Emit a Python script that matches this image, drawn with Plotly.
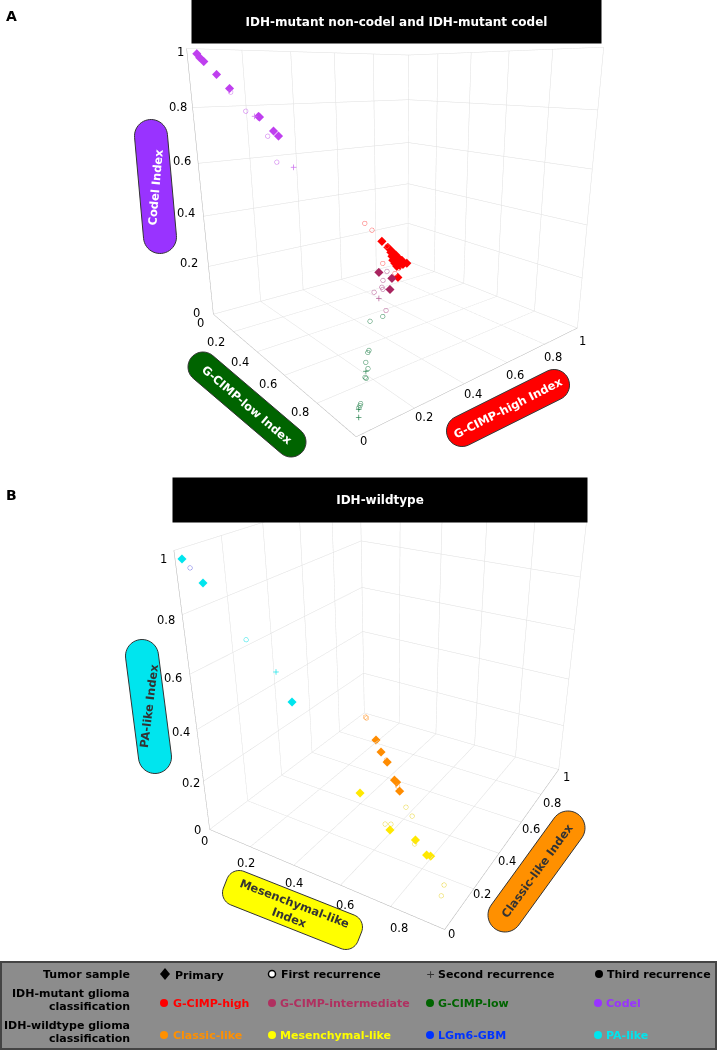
import math
import plotly.graph_objects as go

W, H = 717, 1050

# ---- data: each tuple is (low/mesenchymal index, high/classic index, codel/PA index) ----
A_codel_primary = [(0,.033,.984),(0,.042,.971),(0,.055,.958),(0,.097,.914),(0,.141,.864),(0,.247,.758),(0,.251,.755),(0,.306,.698),(0,.326,.677)]
A_codel_first = [(.008,.141,.851),(.037,.181,.782),(.063,.250,.687),(.169,.229,.602)]
A_codel_second = [(.104,.331,.564),(.014,.225,.760)]
A_high_primary = [(.041,.805,.154),(.044,.838,.118),(.044,.850,.106),(.045,.861,.094),(.046,.873,.081),
    (.047,.885,.069),(.048,.896,.056),(.048,.908,.043),(.041,.927,.032),(.042,.939,.019),
    (.026,.971,.003),(.061,.843,.096),(.069,.848,.082),(.070,.860,.070),(.071,.871,.057),
    (.072,.883,.045),(.073,.895,.032),(.066,.913,.021),(.085,.831,.085),(.093,.836,.071),
    (.094,.847,.059),(.095,.858,.046),(.096,.870,.034),(.108,.818,.074),(.117,.823,.060),
    (.125,.828,.046),(.199,.776,.025)]
A_high_first = [(.027,.718,.254),(.030,.756,.215),(.043,.833,.124),(.196,.693,.110),(.126,.840,.034),(.190,.766,.044)]
A_int_primary = [(.279,.610,.111),(.243,.707,.050),(.325,.633,.042)]
A_int_first = [(.226,.693,.081),(.307,.610,.083),(.354,.569,.077),(.361,.569,.070),(.421,.481,.099),(.464,.506,.030)]
A_int_second = [(.431,.497,.072)]
A_low_first = [(.507,.458,.034),(.580,.347,.074),(.704,.253,.043),(.715,.241,.044),(.757,.203,.040),
    (.774,.199,.027),(.812,.161,.028),(.813,.164,.024),(.901,.083,.015),(.909,.075,.016),(.917,.066,.017)]
A_low_second = [(.789,.181,.031),(.922,.062,.016),(.945,.046,.009)]

B_pa_primary = [(.011,.017,.972),(.054,.051,.895),(.360,.089,.551)]
B_lgm_first = [(.026,.031,.943)]
B_pa_first = [(.197,.073,.731)]
B_pa_second = [(.251,.142,.607)]
B_cl_first = [(.037,.965,0),(.027,.970,0),(.319,.707,0),(.465,.569,0)]
B_cl_primary = [(.188,.821,0),(.264,.749,0),(.331,.696,0),(.431,.598,0),(.446,.590,0),(.490,.544,0)]
B_me_primary = [(.603,.118,.279),(.698,.153,.149),(.701,.318,0),(.778,.268,0),(.793,.270,0)]
B_me_first = [(.568,.467,0),(.618,.431,0),(.683,.146,.171),(.666,.208,.125),(.710,.298,0),(.904,.168,0),(.920,.120,0)]

TICK_VALS = [0, .2, .4, .6, .8, 1]
# tick label text with its place on the page
A_Z_TICKS = [('1', 180, 52), ('0.8', 178, 107), ('0.6', 182, 161), ('0.4', 186, 213), ('0.2', 189, 263), ('0', 196, 313)]
A_LOW_TICKS = [('0', 200, 323), ('0.2', 216, 342), ('0.4', 240, 362), ('0.6', 268, 384), ('0.8', 300, 412)]
A_HIGH_TICKS = [('0', 363, 441), ('0.2', 424, 417), ('0.4', 473, 394), ('0.6', 515, 375), ('0.8', 553, 357), ('1', 582, 341)]
B_Z_TICKS = [('1', 163, 559), ('0.8', 166, 620), ('0.6', 173, 678), ('0.4', 181, 732), ('0.2', 191, 783), ('0', 197, 830)]
B_MES_TICKS = [('0', 204, 841), ('0.2', 246, 863), ('0.4', 294, 883), ('0.6', 345, 905), ('0.8', 399, 928)]
B_CL_TICKS = [('0', 451, 934), ('0.2', 482, 894), ('0.4', 507, 861), ('0.6', 531, 829), ('0.8', 552, 803), ('1', 566, 777)]

C = dict(high='#FF0000', inter='#A8245F', low='#0B6B2B', codel='#BF3FEF', classic='#FF8C00', mes='#FFE800', lgm='#0033FF', pa='#00E5EE')
C_OPEN = dict(high='#FF6060', inter='#B86098', low='#2F8855', codel='#CC70EE', classic='#FFA040', mes='#EAD840', lgm='#7878E8', pa='#20E4E8')


def add(group, kind, col, scene):
    xs, ys, zs = zip(*group)
    if kind == 'P':
        fig.add_trace(go.Scatter3d(x=xs, y=ys, z=zs, mode='markers', scene=scene,
                                   marker=dict(size=3.0, symbol='diamond', color=C[col], line=dict(width=0))))
    elif kind == 'O':
        fig.add_trace(go.Scatter3d(x=xs, y=ys, z=zs, mode='markers', scene=scene,
                                   marker=dict(size=2.8, symbol='circle-open', color=C_OPEN[col])))
    else:
        fig.add_trace(go.Scatter3d(x=xs, y=ys, z=zs, mode='text', scene=scene, text=['+'] * len(xs), textposition='middle center',
                                   textfont=dict(size=9, color=C_OPEN[col], family='DejaVu Sans')))


fig = go.Figure()
add(A_codel_first, 'O', 'codel', 'scene'); add(A_codel_second, 'S', 'codel', 'scene'); add(A_codel_primary, 'P', 'codel', 'scene')
add(A_high_first, 'O', 'high', 'scene'); add(A_high_primary, 'P', 'high', 'scene')
add(A_int_first, 'O', 'inter', 'scene'); add(A_int_second, 'S', 'inter', 'scene'); add(A_int_primary, 'P', 'inter', 'scene')
add(A_low_first, 'O', 'low', 'scene'); add(A_low_second, 'S', 'low', 'scene')
add(B_pa_first, 'O', 'pa', 'scene2'); add(B_pa_second, 'S', 'pa', 'scene2'); add(B_pa_primary, 'P', 'pa', 'scene2')
add(B_lgm_first, 'O', 'lgm', 'scene2')
add(B_cl_first, 'O', 'classic', 'scene2'); add(B_cl_primary, 'P', 'classic', 'scene2')
add(B_me_first, 'O', 'mes', 'scene2'); add(B_me_primary, 'P', 'mes', 'scene2')


def axis():
    return dict(range=[0, 1], tickvals=TICK_VALS, showticklabels=False, showbackground=False, gridcolor='#dedede', gridwidth=1,
                showline=True, linecolor='#b0b0b0', linewidth=1, zeroline=False, title=dict(text=''), ticks='',
                showspikes=False)


def scene(dom_x, dom_y, e, c, u, a):
    return dict(domain=dict(x=dom_x, y=dom_y), xaxis=axis(), yaxis=axis(), zaxis=axis(),
                aspectmode='manual', aspectratio=dict(x=1, y=a[0], z=a[1]),
                camera=dict(eye=dict(x=e[0], y=e[1], z=e[2]), center=dict(x=c[0], y=c[1], z=c[2]),
                            up=dict(x=u[0], y=u[1], z=u[2]), projection=dict(type='perspective')))


px = lambda x: x / W
py = lambda y: 1 - y / H
shapes, anns = [], []


def capsule(x0, y0, x1, y1, w, col, r=None):
    """Rounded bar whose end-cap centres are (x0,y0),(x1,y1)."""
    rad = w / 2
    L = math.hypot(x1 - x0, y1 - y0)
    ux, uy = (x1 - x0) / L, (y1 - y0) / L
    nx, ny = -uy, ux
    r = rad if r is None else r
    ext = rad - r
    hw = rad - r
    base = math.atan2(uy, ux)
    centres = [(x1 + ux * ext - nx * hw, y1 + uy * ext - ny * hw, base - math.pi / 2),
               (x1 + ux * ext + nx * hw, y1 + uy * ext + ny * hw, base),
               (x0 - ux * ext + nx * hw, y0 - uy * ext + ny * hw, base + math.pi / 2),
               (x0 - ux * ext - nx * hw, y0 - uy * ext - ny * hw, base + math.pi)]
    pts = []
    for cx, cy, a0 in centres:
        for k in range(13):
            a = a0 + k / 12 * math.pi / 2
            pts.append((cx + r * math.cos(a), cy + r * math.sin(a)))
    path = 'M ' + ' L '.join(f'{px(a):.5f} {py(b):.5f}' for a, b in pts) + ' Z'
    shapes.append(dict(type='path', xref='paper', yref='paper', path=path, fillcolor=col, line=dict(color='#333333', width=1)))


def label(x, y, text, color='black', size=11, anchor='center', angle=0, weight='bold'):
    anns.append(dict(xref='paper', yref='paper', x=px(x), y=py(y), text=text, showarrow=False, xanchor=anchor, yanchor='middle',
                     textangle=angle, font=dict(family='DejaVu Sans', size=size, color=color, weight=weight)))


def dot(x, y, col, r=4, line=None):
    shapes.append(dict(type='circle', xref='paper', yref='paper', x0=px(x - r), x1=px(x + r), y0=py(y + r), y1=py(y - r),
                       fillcolor=col, line=dict(color=line or col, width=1.5 if line else 0)))


for ticks in (A_Z_TICKS, A_LOW_TICKS, A_HIGH_TICKS, B_Z_TICKS, B_MES_TICKS, B_CL_TICKS):
    for t, x, y in ticks:
        label(x, y, t, 'black', 11.5, weight='normal')

# axis-name bars
capsule(151, 136, 160, 237, 33, '#9933FF'); label(155.5, 187, 'Codel Index', 'white', 11.5, angle=-85)
capsule(203, 367, 291, 442, 30, '#006400'); label(247, 405, 'G-CIMP-low Index', 'white', 11.5, angle=40.4)
capsule(462, 431, 554, 385, 31, '#FF0000'); label(508, 408, 'G-CIMP-high Index', 'white', 11.5, angle=-27)
capsule(142, 656, 155, 757, 33, '#00E5EE'); label(149, 706, 'PA-like Index', '#333333', 11.5, angle=-83)
capsule(242, 890, 343, 930, 36, '#FFFF00', 13); label(292, 910, 'Mesenchymal-like<br>Index', '#333333', 11.5, angle=21)
capsule(505, 915, 568, 828, 34, '#FF9000'); label(537, 871, 'Classic-like Index', '#333333', 11.5, angle=-54)

# panel titles on black bands
anns.append(dict(xref='paper', yref='paper', x=px(396.5), y=py(21.5), text='IDH-mutant non-codel and IDH-mutant codel', showarrow=False,
                 xanchor='center', yanchor='middle', width=409, height=43, bgcolor='black', borderpad=0,
                 font=dict(family='DejaVu Sans', size=12, color='white', weight='bold')))
anns.append(dict(xref='paper', yref='paper', x=px(380), y=py(500), text='IDH-wildtype', showarrow=False,
                 xanchor='center', yanchor='middle', width=414, height=44, bgcolor='black', borderpad=0,
                 font=dict(family='DejaVu Sans', size=12, color='white', weight='bold')))
label(12, 16, 'A', 'black', 14)
label(12, 495, 'B', 'black', 14)

# legend panel
shapes.append(dict(type='rect', xref='paper', yref='paper', x0=px(1), x1=px(716), y0=py(1049), y1=py(962),
                   fillcolor='#8C8C8C', line=dict(color='#444444', width=2)))
label(132, 974, 'Tumor sample', anchor='right')
label(132, 993, 'IDH-mutant glioma', anchor='right')
label(132, 1006, 'classification', anchor='right')
label(132, 1025, 'IDH-wildtype glioma', anchor='right')
label(132, 1038, 'classification', anchor='right')
shapes.append(dict(type='path', xref='paper', yref='paper', fillcolor='black', line=dict(width=0),
                   path=f'M {px(160)} {py(974)} L {px(165)} {py(968)} L {px(170)} {py(974)} L {px(165)} {py(980)} Z'))
label(173, 975, 'Primary', anchor='left')
dot(272, 974, 'white', 3.5, 'black'); label(279, 974, 'First recurrence', anchor='left')
label(430, 974, '+', '#333333', 11, weight='normal')
label(436, 974, 'Second recurrence', anchor='left')
dot(599, 974, 'black', 4); label(605, 974, 'Third recurrence', anchor='left')
LEG_X = [(164, 171), (272, 278), (430, 436), (598, 604)]
LEG_2 = [('G-CIMP-high', '#FF0000'), ('G-CIMP-intermediate', '#B03060'), ('G-CIMP-low', '#006400'), ('Codel', '#9933FF')]
LEG_3 = [('Classic-like', '#FF9000'), ('Mesenchymal-like', '#FFFF00'), ('LGm6-GBM', '#0033FF'), ('PA-like', '#00E5EE')]
for row_y, row in ((1003, LEG_2), (1035, LEG_3)):
    for (xd, xt), (t, c) in zip(LEG_X, row):
        dot(xd, row_y, c, 4)
        label(xt, row_y + 0.5, t, c, anchor='left')

fig.update_layout(width=W, height=H, margin=dict(l=0, r=0, t=0, b=0), showlegend=False, paper_bgcolor='white',
                  shapes=shapes, annotations=anns,
                  scene=scene([0.12745, 1], [1 - 453.5 / 1050, 1], (1.5445, -1.2088, .4191), (.0556, .0227, -.1184), (-.2070, .1702, .9634), (1.0176, 1.0131)),
                  scene2=scene([0.12449, 1], [0.07695, 0.65514], (1.2600, -2.1294, 1.1884), (.0133, .0289, .0387), (-.2154, .3593, .9080), (1.0764, 1.0854)))
fig.write_html('out.html', config={'displayModeBar': False},
               post_script="document.body.style.margin='0';document.body.style.overflow='hidden';")
